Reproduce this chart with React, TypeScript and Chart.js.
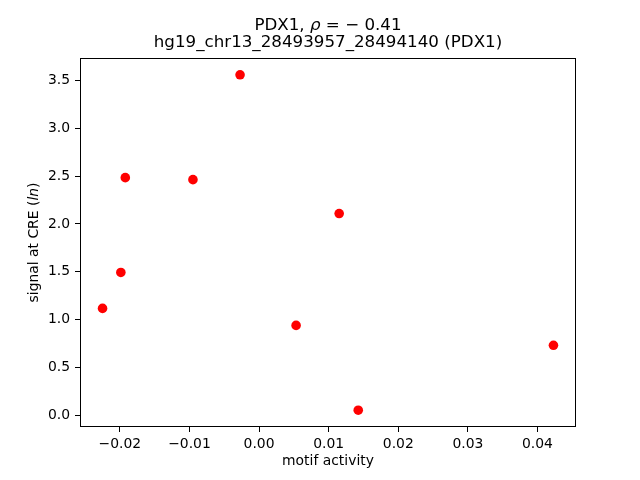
import React, { useEffect, useRef } from "react";
import { Chart, registerables } from "chart.js";

Chart.register(...registerables);

const motifActivity = [-0.02249, -0.01986, -0.01922, -0.0095, -0.00273, 0.00532, 0.01151, 0.01425, 0.0423];
const signalAtCRE = [1.117, 1.493, 2.484, 2.463, 3.56, 0.939, 2.109, 0.052, 0.731];
const xTickValues = [-0.02, -0.01, 0, 0.01, 0.02, 0.03, 0.04];
const yTickValues = [0, 0.5, 1, 1.5, 2, 2.5, 3, 3.5];
const titleLine1 = ["PDX1, ", "ρ", " = − 0.41"];
const titleLine2 = "hg19_chr13_28493957_28494140 (PDX1)";
const xLabel = "motif activity";
const yLabelParts = ["signal at CRE (", "ln", ")"];

const FONT = "'DejaVu Sans', sans-serif";

function limits(vals: number[]) {
  const lo = Math.min(...vals);
  const hi = Math.max(...vals);
  const m = (hi - lo) * 0.05;
  return [lo - m, hi + m];
}

function drawRich(ctx: CanvasRenderingContext2D, parts: { t: string; i: boolean }[], x: number, y: number, size: number) {
  const widths = parts.map((p) => {
    ctx.font = `${p.i ? "italic " : ""}${size}px ${FONT}`;
    return ctx.measureText(p.t).width;
  });
  const total = widths.reduce((a, b) => a + b, 0);
  let cx = x - total / 2;
  parts.forEach((p, k) => {
    ctx.font = `${p.i ? "italic " : ""}${size}px ${FONT}`;
    ctx.textAlign = "left";
    ctx.fillText(p.t, cx, y);
    cx += widths[k];
  });
}

const mplPlugin = {
  id: "mplDecor",
  afterDraw(chart: any) {
    const { ctx, chartArea: a } = chart;
    ctx.save();
    ctx.strokeStyle = "#000";
    ctx.lineWidth = 1;
    const l = Math.round(a.left) + 0.5;
    const t = Math.round(a.top) + 0.5;
    const r = Math.round(a.right) - 0.5;
    const b = Math.round(a.bottom) - 0.5;
    ctx.strokeRect(l, t, r - l, b - t);
    ctx.fillStyle = "#000";
    const cx = (a.left + a.right) / 2;
    const cy = (a.top + a.bottom) / 2;
    ctx.textBaseline = "alphabetic";
    drawRich(
      ctx,
      [
        { t: titleLine1[0], i: false },
        { t: titleLine1[1], i: true },
        { t: titleLine1[2], i: false },
      ],
      cx,
      30,
      16.7
    );
    drawRich(ctx, [{ t: titleLine2, i: false }], cx, 47, 16.7);
    ctx.textBaseline = "middle";
    drawRich(ctx, [{ t: xLabel, i: false }], cx, 461, 13.9);
    ctx.translate(34, cy);
    ctx.rotate(-Math.PI / 2);
    drawRich(
      ctx,
      [
        { t: yLabelParts[0], i: false },
        { t: yLabelParts[1], i: true },
        { t: yLabelParts[2], i: false },
      ],
      0,
      0,
      13.9
    );
    ctx.restore();
  },
};

export default function App() {
  const ref = useRef<HTMLCanvasElement | null>(null);
  useEffect(() => {
    if (!ref.current) return;
    const [xmin, xmax] = limits(motifActivity);
    const [ymin, ymax] = limits(signalAtCRE);
    const chart = new Chart(ref.current, {
      type: "scatter",
      data: {
        datasets: [
          {
            data: motifActivity.map((x, i) => ({ x, y: signalAtCRE[i] })),
            backgroundColor: "#ff0000",
            borderColor: "#ff0000",
            borderWidth: 0,
            pointRadius: 4.8,
          },
        ],
      },
      options: {
        responsive: false,
        animation: false,
        layout: { padding: { left: 0, right: 64, top: 58, bottom: 0 } },
        plugins: { legend: { display: false }, tooltip: { enabled: false }, title: { display: false } },
        scales: {
          x: {
            type: "linear",
            min: xmin,
            max: xmax,
            afterBuildTicks: (s: any) => {
              s.ticks = xTickValues.map((v) => ({ value: v }));
            },
            afterFit: (s: any) => {
              s.height = 53;
            },
            border: { display: false },
            grid: { display: true, drawOnChartArea: false, drawTicks: true, tickLength: 5, color: "#000", lineWidth: 1 },
            ticks: {
              color: "#000",
              padding: 4,
              maxRotation: 0,
              autoSkip: false,
              font: { family: FONT, size: 13.9 },
              callback: (v: any) => Number(v).toFixed(2).replace("-", "−"),
            },
          },
          y: {
            type: "linear",
            min: ymin,
            max: ymax,
            afterBuildTicks: (s: any) => {
              s.ticks = yTickValues.map((v) => ({ value: v }));
            },
            afterFit: (s: any) => {
              s.width = 80;
            },
            border: { display: false },
            grid: { display: true, drawOnChartArea: false, drawTicks: true, tickLength: 5, color: "#000", lineWidth: 1 },
            ticks: {
              color: "#000",
              padding: 5,
              autoSkip: false,
              font: { family: FONT, size: 13.9 },
              callback: (v: any) => Number(v).toFixed(1).replace("-", "−"),
            },
          },
        },
      },
      plugins: [mplPlugin],
    });
    return () => chart.destroy();
  }, []);
  return (
    <div style={{ position: "absolute", left: 0, top: 0, width: 640, height: 480, background: "#fff" }}>
      <canvas ref={ref} width={640} height={480} />
    </div>
  );
}
